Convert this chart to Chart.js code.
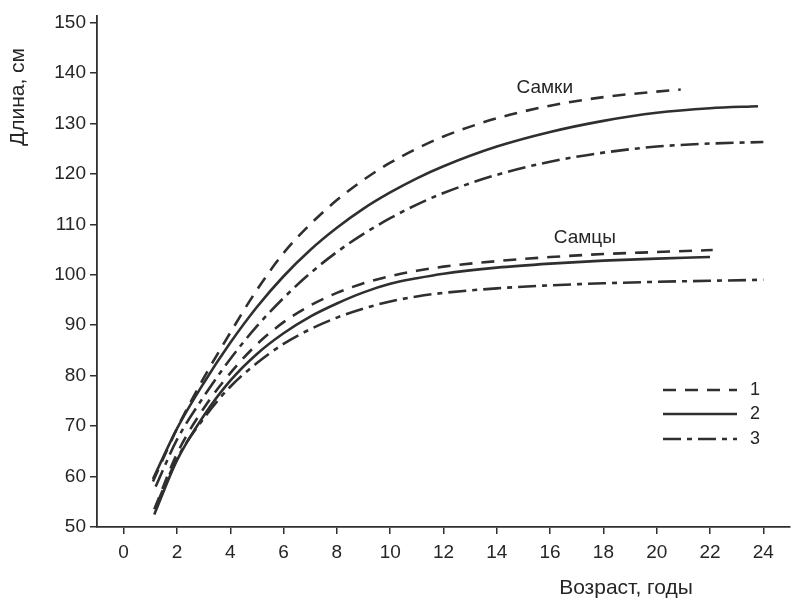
<!DOCTYPE html>
<html>
<head>
<meta charset="utf-8">
<script src="https://cdn.jsdelivr.net/npm/chart.js@4.4.1/dist/chart.umd.min.js"></script>
<style>
  html, body { margin: 0; padding: 0; background: #fff; }
  #wrap { width: 793px; height: 598px; position: relative; }
</style>
</head>
<body>
<div id="wrap"><canvas id="c" width="793" height="598"></canvas></div>
<script>
// ---- Data ----
const xTicks = [0, 2, 4, 6, 8, 10, 12, 14, 16, 18, 20, 22, 24];
const yTicks = [50, 60, 70, 80, 90, 100, 110, 120, 130, 140, 150];

// Females (Самки)
const femAge1 = [1.1, 2, 3, 4, 5, 6, 7, 8, 9, 10, 11, 12, 14, 16, 18, 20, 20.9];
const femLen1 = [59, 69.5, 79.5, 88.5, 97, 104.3, 110, 114.8, 118.8, 122.2, 125, 127.4, 131, 133.5, 135.2, 136.3, 136.7];
const femAge2 = [1.1, 2, 3, 4, 5, 6, 7, 8, 9, 10, 11, 12, 14, 16, 18, 20, 22, 23.8];
const femLen2 = [59.5, 69.5, 78.5, 86.5, 93.6, 99.7, 104.9, 109.3, 113.1, 116.3, 119.1, 121.5, 125.4, 128.3, 130.5, 132.1, 133.0, 133.4];
const femAge3 = [1.2, 2, 3, 4, 5, 6, 7, 8, 9, 10, 11, 12, 14, 16, 18, 20, 22, 24];
const femLen3 = [58, 67.3, 75.8, 83.3, 89.8, 95.4, 100.3, 104.5, 108.1, 111.2, 113.9, 116.2, 119.8, 122.4, 124.2, 125.4, 126.0, 126.3];

// Males (Самцы)
const maleAge1 = [1.15, 2, 3, 4, 5, 6, 7, 8, 9, 10, 11, 12, 14, 16, 18, 20, 22.1];
const maleLen1 = [53.5, 64.5, 73.5, 80.5, 86.2, 90.6, 93.9, 96.4, 98.3, 99.7, 100.8, 101.6, 102.7, 103.5, 104.1, 104.5, 104.9];
const maleAge2 = [1.15, 2, 3, 4, 5, 6, 7, 8, 9, 10, 11, 12, 14, 16, 18, 20, 22];
const maleLen2 = [52.5, 63.2, 72, 79, 84.3, 88.4, 91.7, 94.3, 96.5, 98.2, 99.3, 100.2, 101.4, 102.2, 102.8, 103.2, 103.5];
const maleAge3 = [1.2, 2, 3, 4, 5, 6, 7, 8, 9, 10, 11, 12, 14, 16, 18, 20, 22, 24];
const maleLen3 = [54, 63.5, 71.5, 77.8, 82.5, 86.3, 89.2, 91.5, 93.3, 94.7, 95.7, 96.4, 97.3, 97.9, 98.3, 98.6, 98.8, 99];

const legendLabels = ['1', '2', '3'];
const groupLabels = ['Самки', 'Самцы'];
const xTitle = 'Возраст, годы';
const yTitle = 'Длина, см';

// ---- Styles ----
const INK = '#2f2f2f';
const TEXT = '#262626';
const FONT = "'Liberation Sans', Arial, sans-serif";
const dashes = [[13, 9], [], [18, 6, 5, 6]];

const pts = (xs, ys) => xs.map((x, i) => ({ x, y: ys[i] }));
const mk = (xs, ys, style) => ({
  data: pts(xs, ys),
  borderColor: INK,
  borderWidth: 2.6,
  borderDash: dashes[style],
  pointRadius: 0,
  fill: false,
  cubicInterpolationMode: 'monotone'
});

const datasets = [
  mk(femAge1, femLen1, 0), mk(femAge2, femLen2, 1), mk(femAge3, femLen3, 2),
  mk(maleAge1, maleLen1, 0), mk(maleAge2, maleLen2, 1), mk(maleAge3, maleLen3, 2)
];

const annot = {
  id: 'annot',
  afterDraw(chart) {
    const { ctx, chartArea: ca, scales } = chart;
    const xs = scales.x, ys = scales.y;
    ctx.save();
    ctx.fillStyle = TEXT;
    // group labels
    ctx.font = '19px ' + FONT;
    ctx.textAlign = 'center';
    ctx.textBaseline = 'middle';
    ctx.fillText(groupLabels[0], xs.getPixelForValue(15.8), ys.getPixelForValue(137.1));
    ctx.fillText(groupLabels[1], xs.getPixelForValue(17.3), ys.getPixelForValue(107.3));
    // legend
    const lx0 = ca.right - 127, lx1 = ca.right - 53;
    const rows = [ca.bottom - 137, ca.bottom - 113, ca.bottom - 88];
    rows.forEach((y, i) => {
      ctx.strokeStyle = INK;
      ctx.lineWidth = 2.6;
      ctx.setLineDash(dashes[i]);
      ctx.beginPath();
      ctx.moveTo(lx0, y);
      ctx.lineTo(lx1, y);
      ctx.stroke();
      ctx.setLineDash([]);
      ctx.font = '18px ' + FONT;
      ctx.textAlign = 'left';
      ctx.fillText(legendLabels[i], lx1 + 13, y);
    });
    // axis titles
    ctx.font = '21px ' + FONT;
    ctx.textAlign = 'center';
    ctx.fillText(xTitle, 626, ca.bottom + 61);
    ctx.translate(18, 97);
    ctx.rotate(-Math.PI / 2);
    ctx.fillText(yTitle, 0, 0);
    ctx.restore();
  }
};

new Chart(document.getElementById('c'), {
  type: 'line',
  data: { datasets },
  options: {
    responsive: false,
    animation: false,
    devicePixelRatio: 1,
    layout: { padding: { top: 15, right: 3, left: 0, bottom: 0 } },
    plugins: { legend: { display: false }, tooltip: { enabled: false } },
    scales: {
      x: {
        type: 'linear',
        min: -1, max: 25,
        afterBuildTicks: s => { s.ticks = xTicks.map(v => ({ value: v })); },
        afterFit: s => { s.height = 71; },
        border: { display: true, color: INK, width: 1.8 },
        grid: { drawOnChartArea: false, drawTicks: true, tickLength: 7, color: INK, lineWidth: 1.5 },
        ticks: { color: TEXT, font: { family: FONT, size: 19 }, padding: 7, autoSkip: false, maxRotation: 0 }
      },
      y: {
        type: 'linear',
        min: 50, max: 151.4,
        afterBuildTicks: s => { s.ticks = yTicks.map(v => ({ value: v })); },
        afterFit: s => { s.width = 97; },
        border: { display: true, color: INK, width: 1.8 },
        grid: { drawOnChartArea: false, drawTicks: true, tickLength: 7, color: INK, lineWidth: 1.5 },
        ticks: { color: TEXT, font: { family: FONT, size: 19 }, padding: 4, autoSkip: false }
      }
    }
  },
  plugins: [annot]
});
</script>
</body>
</html>
